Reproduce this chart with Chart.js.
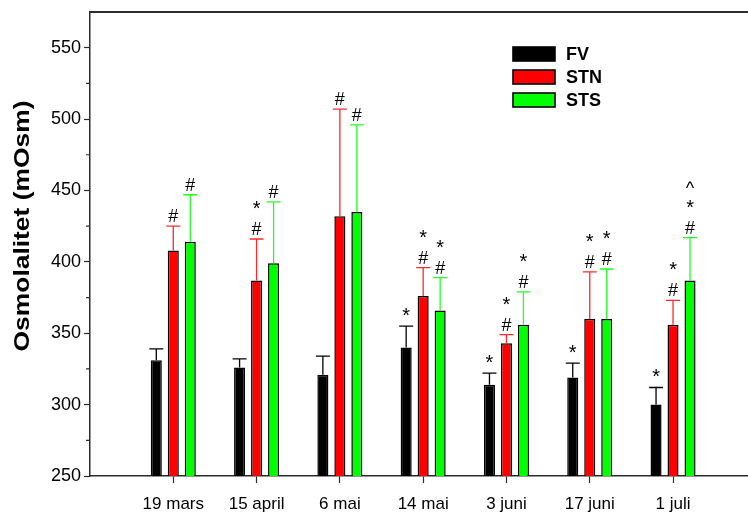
<!DOCTYPE html>
<html>
<head>
<meta charset="utf-8">
<script src="https://cdn.jsdelivr.net/npm/chart.js@4.4.1/dist/chart.umd.min.js"></script>
<style>
  html, body { margin: 0; padding: 0; background: #fff; }
  canvas { display: block; }
</style>
</head>
<body>
<canvas id="chart" width="748" height="515"></canvas>
<script>
// Sampling dates
const categories = ['19 mars', '15 april', '6 mai', '14 mai', '3 juni', '17 juni', '1 juli'];
const seriesNames = ['FV', 'STN', 'STS'];

// Mean osmolality and standard deviation per group (mOsm)
const fvMean  = [331, 326, 321, 340, 314, 319, 300];
const fvSD    = [8, 6, 13, 15, 8, 10, 12];
const stnMean = [408, 387, 432, 376, 343, 360, 356];
const stnSD   = [17, 29, 75, 20, 6, 33, 17];
const stsMean = [414, 399, 435, 366, 356, 360, 387];
const stsSD   = [33, 43, 61, 23, 23, 35, 30];

// Significance symbols above each bar, listed from the bottom up
const fvMarks  = ['', '', '', '*', '*', '*', '*'];
const stnMarks = ['#', '#*', '#', '#*', '#*', '#*', '#*'];
const stsMarks = ['#', '#', '#', '#*', '#*', '#*', '#*^'];

const yTicks = [250, 300, 350, 400, 450, 500, 550];
const yTitle = 'Osmolalitet (mOsm)';

const FONT = "'Liberation Sans', Arial, Helvetica, sans-serif";
const AXIS_COLOR = '#2b2b2b';

function toPoints(values) {
  return values.map((v, i) => ({ x: i + 1, y: v }));
}

const seriesStyle = [
  { fill: '#000000', line: '#000000' },
  { fill: '#ff0000', line: '#ff2a2a' },
  { fill: '#00ff00', line: '#22ff22' }
];

const datasets = [
  { label: seriesNames[0], data: toPoints(fvMean),  sd: fvSD,  marks: fvMarks },
  { label: seriesNames[1], data: toPoints(stnMean), sd: stnSD, marks: stnMarks },
  { label: seriesNames[2], data: toPoints(stsMean), sd: stsSD, marks: stsMarks }
].map((d, i) => Object.assign(d, {
  backgroundColor: seriesStyle[i].fill,
  borderColor: '#000000',
  borderWidth: 1.5,
  borderSkipped: 'start',
  categoryPercentage: 0.612,
  barPercentage: 0.65
}));

// Upward error bars with caps, plus the significance symbols above them
const errorBarPlugin = {
  id: 'errorBars',
  afterDatasetsDraw(chart) {
    const { ctx } = chart;
    const yScale = chart.scales.y;
    chart.data.datasets.forEach((ds, di) => {
      const meta = chart.getDatasetMeta(di);
      meta.data.forEach((bar, j) => {
        const mean = ds.data[j].y;
        const top = yScale.getPixelForValue(mean + ds.sd[j]);
        const x = bar.x;
        ctx.save();
        ctx.strokeStyle = seriesStyle[di].line;
        ctx.lineWidth = 1.3;
        ctx.beginPath();
        ctx.moveTo(x, bar.y);
        ctx.lineTo(x, top);
        ctx.moveTo(x - 7, top);
        ctx.lineTo(x + 7, top);
        ctx.stroke();

        ctx.fillStyle = '#000';
        ctx.textAlign = 'center';
        ctx.textBaseline = 'alphabetic';
        const marks = ds.marks[j].split('');
        marks.forEach((ch, k) => {
          ctx.font = (ch === '*' ? '20px ' : '18px ') + FONT;
          ctx.fillText(ch, x, top - 4 - k * 20);
        });
        ctx.restore();
      });
    });
  }
};

// Frame line along the top, minor y ticks, legend and rotated axis title
const decorPlugin = {
  id: 'decor',
  afterDraw(chart) {
    const { ctx, chartArea } = chart;
    const yScale = chart.scales.y;
    ctx.save();

    ctx.strokeStyle = AXIS_COLOR;
    ctx.lineWidth = 2;
    ctx.beginPath();
    ctx.moveTo(chartArea.left - 0.75, chartArea.top);
    ctx.lineTo(chartArea.right, chartArea.top);
    ctx.stroke();

    ctx.lineWidth = 1.2;
    ctx.beginPath();
    for (let v = yTicks[0] + 25; v < yTicks[yTicks.length - 1]; v += 50) {
      const y = yScale.getPixelForValue(v);
      ctx.moveTo(chartArea.left - 4, y);
      ctx.lineTo(chartArea.left, y);
    }
    ctx.stroke();

    // legend
    const lx = 513, ly = 54, rowH = 23;
    chart.data.datasets.forEach((ds, i) => {
      const cy = ly + i * rowH;
      ctx.fillStyle = ds.backgroundColor;
      ctx.fillRect(lx, cy - 7, 42, 14);
      ctx.strokeStyle = '#000';
      ctx.lineWidth = 1.6;
      ctx.strokeRect(lx, cy - 7, 42, 14);
      ctx.fillStyle = '#000';
      ctx.font = 'bold 18px ' + FONT;
      ctx.textAlign = 'left';
      ctx.textBaseline = 'middle';
      ctx.fillText(ds.label, 566, cy + 1);
    });

    // y axis title
    ctx.translate(23, 226);
    ctx.rotate(-Math.PI / 2);
    ctx.scale(1.2, 1);
    ctx.fillStyle = '#000';
    ctx.font = 'bold 22px ' + FONT;
    ctx.textAlign = 'center';
    ctx.textBaseline = 'middle';
    ctx.fillText(yTitle, 0, 0);
    ctx.restore();
  }
};

new Chart(document.getElementById('chart'), {
  type: 'bar',
  data: { datasets },
  options: {
    responsive: false,
    animation: false,
    layout: { padding: { top: 11, right: 0, left: 0, bottom: 0 } },
    plugins: {
      legend: { display: false },
      tooltip: { enabled: false }
    },
    scales: {
      x: {
        type: 'linear',
        min: 0,
        max: 7.9,
        offset: false,
        afterBuildTicks: (s) => { s.ticks = categories.map((c, i) => ({ value: i + 1 })); },
        afterFit: (s) => { s.height = 39; },
        border: { color: AXIS_COLOR, width: 1.5 },
        grid: { offset: false, drawOnChartArea: false, tickLength: 7, color: AXIS_COLOR, tickWidth: 1.2 },
        ticks: {
          autoSkip: false,
          maxRotation: 0,
          padding: 11,
          color: '#000',
          font: { family: FONT, size: 17 },
          callback: (v, i) => categories[i]
        }
      },
      y: {
        min: 250,
        max: 575,
        afterBuildTicks: (s) => { s.ticks = yTicks.map((v) => ({ value: v })); },
        afterFit: (s) => { s.width = 90; },
        border: { color: AXIS_COLOR, width: 1.5 },
        grid: { drawOnChartArea: false, tickLength: 6, color: AXIS_COLOR, tickWidth: 1.2 },
        ticks: {
          padding: 3,
          color: '#000',
          font: { family: FONT, size: 18, lineHeight: 1.0 }
        }
      }
    }
  },
  plugins: [errorBarPlugin, decorPlugin]
});
</script>
</body>
</html>
